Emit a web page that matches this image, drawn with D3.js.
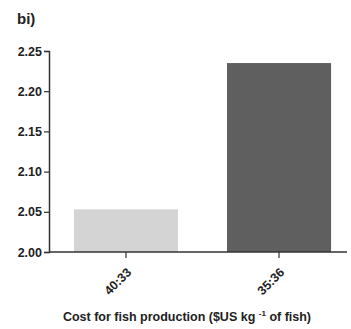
<!DOCTYPE html>
<html><head><meta charset="utf-8">
<script src="https://cdn.jsdelivr.net/npm/d3@7"></script>
<style>body{margin:0;background:#fff}svg{display:block}text{font-family:"Liberation Sans",Arial,sans-serif;font-weight:bold;fill:#222}</style>
</head><body>
<svg id="c" width="351" height="329"></svg>
<script>
const categories = ["40:33", "35:36"];
const values = [2.053, 2.235];
const colors = ["#d4d4d4", "#5f5f5f"];
const yTicks = [2.00, 2.05, 2.10, 2.15, 2.20, 2.25];

const svg = d3.select("#c");
const W = 351, H = 329;
const L = 49, R = 347, T = 51, B = 252;
const x = d3.scaleBand().domain(categories).range([L, 356]).paddingInner(0.32).paddingOuter(0.163);
const y = d3.scaleLinear().domain([2.00, 2.25]).range([B, T]);

svg.selectAll("rect.bar").data(categories).enter().append("rect")
  .attr("class", "bar")
  .attr("x", d => x(d)).attr("width", x.bandwidth())
  .attr("y", (d, i) => y(values[i]))
  .attr("height", (d, i) => y(2.00) - y(values[i]))
  .attr("fill", (d, i) => colors[i]);

const ya = svg.append("g").attr("transform", `translate(${L},0)`)
  .call(d3.axisLeft(y).tickValues(yTicks).tickFormat(d3.format(".2f")).tickSize(5).tickPadding(2));
ya.select(".domain").attr("stroke", "#333").attr("stroke-width", 1.5);
ya.selectAll(".tick line").attr("stroke", "#333").attr("stroke-width", 1.2);
ya.selectAll("text").style("font-size", "12.5px").attr("fill", "#222");

const xa = svg.append("g").attr("transform", `translate(0,${B})`)
  .call(d3.axisBottom(x).tickSize(6).tickSizeOuter(0));
xa.select(".domain").remove();
xa.append("line").attr("x1", L).attr("x2", R).attr("stroke", "#333").attr("stroke-width", 1.5);
xa.selectAll(".tick line").attr("stroke", "#333").attr("stroke-width", 1.2);
xa.selectAll("text").style("font-size", "12.5px").attr("fill", "#222")
  .attr("text-anchor", "end").attr("dy", "0.35em").attr("y", 0)
  .attr("transform", "translate(3,18) rotate(-45)");

svg.append("text").attr("x", 17).attr("y", 24).style("font-size", "15px").text("bi)");

const t = svg.append("text").attr("x", 187).attr("y", 321).attr("text-anchor", "middle").style("font-size", "12.5px");
t.append("tspan").text("Cost for fish production ($US kg ");
t.append("tspan").attr("dy", -5).style("font-size", "8px").text("   -1");
t.append("tspan").attr("dy", 5).text(" of fish)");
</script>
</body></html>
